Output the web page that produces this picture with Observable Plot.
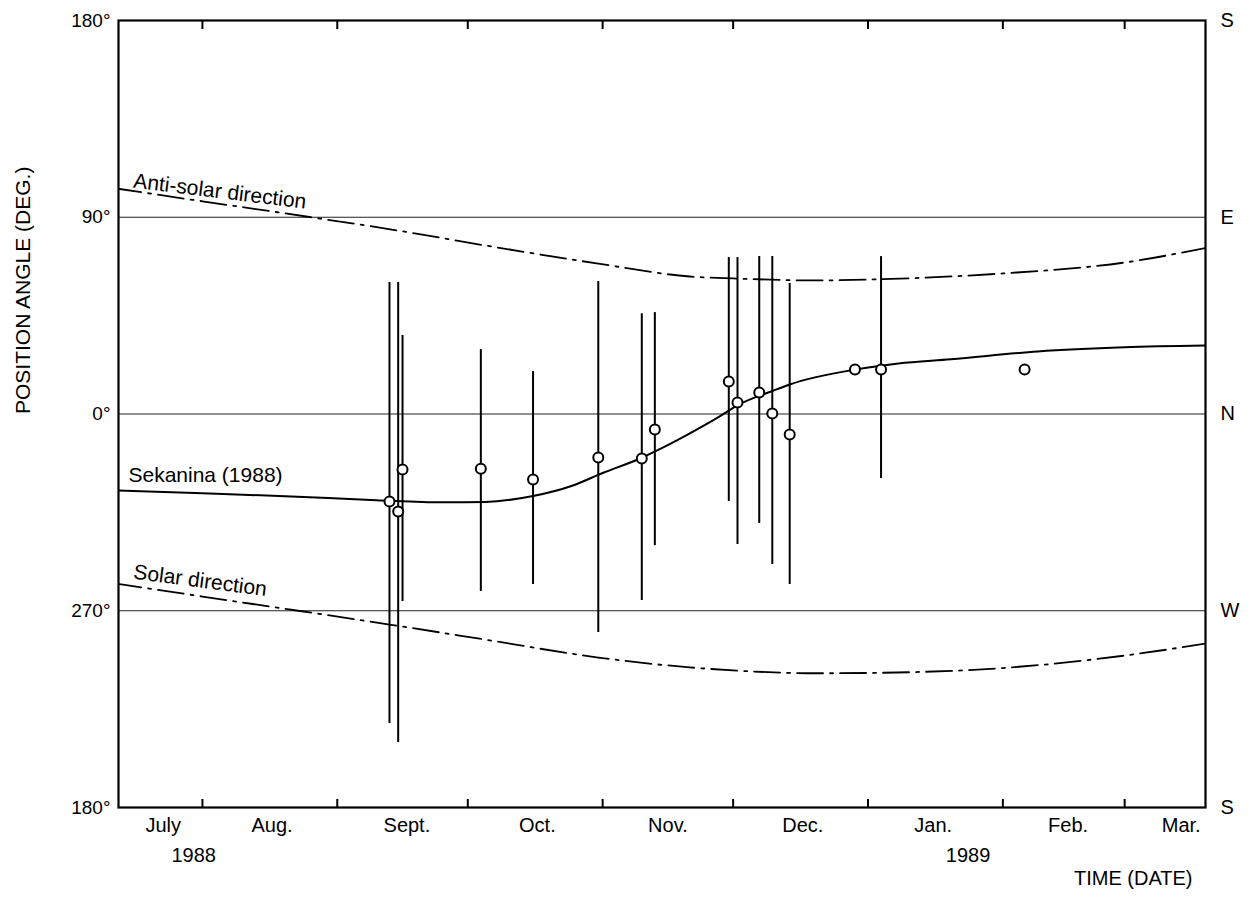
<!DOCTYPE html>
<html>
<head>
<meta charset="utf-8">
<script src="https://cdn.jsdelivr.net/npm/d3@7"></script>
<script src="https://cdn.jsdelivr.net/npm/@observablehq/plot@0.6"></script>
<style>
  html, body { margin: 0; padding: 0; background: #fff; }
  #chart svg { display: block; }
</style>
</head>
<body>
<div id="chart"></div>
<script>
// ---- Observations (position angle in degrees, with error bars) ----
const obsDates = ["1988-09-13","1988-09-15","1988-09-16","1988-10-04","1988-10-16","1988-10-31","1988-11-10","1988-11-13","1988-11-30","1988-12-02","1988-12-07","1988-12-10","1988-12-14","1988-12-29","1989-01-04","1989-02-06"];
const obsAngle = [-40.0,-44.6,-25.4,-25.0,-30.0,-19.9,-20.4,-7.1,14.9,5.3,9.8,0.2,-9.4,20.4,20.4,20.4];
const obsHigh  = [60.2,60.2,35.9,29.5,19.4,60.6,45.9,46.4,71.6,71.6,72.0,72.0,59.7,null,72.0,null];
const obsLow   = [-141.6,-150.3,-85.8,-81.2,-78.0,-100.0,-85.3,-60.2,-40.0,-59.7,-50.1,-68.8,-78.0,null,-29.5,null];

// ---- Sekanina (1988) model curve ----
const sekDates = ["1988-07-12","1988-08-01","1988-08-20","1988-09-10","1988-09-25","1988-10-05","1988-10-16","1988-10-25","1988-11-01","1988-11-10","1988-11-14","1988-11-20","1988-11-28","1988-12-02","1988-12-10","1988-12-14","1988-12-29","1989-01-08","1989-01-20","1989-02-09","1989-03-01","1989-03-20"];
const sekAngle = [-35.0,-36.3,-37.6,-39.4,-40.4,-40.2,-37.5,-32.8,-27.0,-20.0,-16.2,-10.0,-1.0,4.0,10.5,13.5,20.3,23.1,25.0,28.6,30.5,31.3];

// ---- Anti-solar direction ----
const antiDates = ["1988-07-12","1988-08-01","1988-08-26","1988-09-15","1988-10-05","1988-10-31","1988-11-21","1988-12-01","1988-12-20","1989-01-03","1989-02-01","1989-03-01","1989-03-20"];
const antiAngle = [103.2,97.3,90.0,83.9,77.1,68.8,62.9,62.0,61.1,61.6,64.3,69.3,76.1];

// ---- Solar direction ----
const solarDates = ["1988-07-12","1988-08-01","1988-08-23","1988-09-13","1988-10-05","1988-10-31","1988-11-21","1988-12-01","1988-12-20","1989-01-03","1989-02-01","1989-03-01","1989-03-20"];
const solarAngle = [-77.5,-83.5,-90.0,-96.3,-103.2,-111.4,-115.9,-117.3,-118.6,-118.4,-116.2,-110.5,-104.9];

// ---- Axes ----
const monthStarts = ["1988-08-01","1988-09-01","1988-10-01","1988-11-01","1988-12-01","1989-01-01","1989-02-01","1989-03-01"];
const monthLabelDates = ["1988-07-23","1988-08-17","1988-09-17","1988-10-17","1988-11-16","1988-12-17","1989-01-16","1989-02-16","1989-03-14"];
const monthLabels = ["July","Aug.","Sept.","Oct.","Nov.","Dec.","Jan.","Feb.","Mar."];
const yearLabelDates = ["1988-07-30","1989-01-24"];
const yearLabels = ["1988","1989"];
const yTicks = [180, 90, 0, -90, -180];
const yTickLabels = ["180°","90°","0°","270°","180°"];
const compassLabels = ["S","E","N","W","S"];
const gridAngles = [90, 0, -90];

// ---- build tables ----
const P = s => new Date(s + "T00:00:00Z");
const obs = obsDates.map((d, i) => ({date: P(d), angle: obsAngle[i], hi: obsHigh[i], lo: obsLow[i]}));
const obsBars = obs.filter(d => d.hi != null && d.lo != null);
const sek = sekDates.map((d, i) => ({date: P(d), angle: sekAngle[i]}));
const anti = antiDates.map((d, i) => ({date: P(d), angle: antiAngle[i]}));
const solar = solarDates.map((d, i) => ({date: P(d), angle: solarAngle[i]}));
const monthLabelMap = new Map(monthLabelDates.map((d, i) => [+P(d), monthLabels[i]]));
const yLabelMap = new Map(yTicks.map((t, i) => [t, yTickLabels[i]]));
const compassMap = new Map(yTicks.map((t, i) => [t, compassLabels[i]]));
const years = yearLabelDates.map((d, i) => ({date: P(d), text: yearLabels[i]}));

const font = "'Liberation Sans', Arial, Helvetica, sans-serif";
const dashDot = "26,7,3,7";

const chart = Plot.plot({
  width: 1249,
  height: 902,
  marginLeft: 118,
  marginRight: 44,
  marginTop: 20,
  marginBottom: 95,
  style: {fontFamily: font, fontSize: "19px", background: "white", color: "black", overflow: "visible"},
  x: {type: "utc", domain: [new Date("1988-07-12T17:00:00Z"), new Date("1989-03-19T14:00:00Z")]},
  y: {domain: [-180, 180]},
  marks: [
    Plot.ruleY(gridAngles, {stroke: "#222", strokeWidth: 1.1}),
    Plot.line(anti, {x: "date", y: "angle", curve: "monotone-x", stroke: "black", strokeWidth: 1.8, strokeDasharray: dashDot, clip: true}),
    Plot.line(solar, {x: "date", y: "angle", curve: "monotone-x", stroke: "black", strokeWidth: 1.8, strokeDasharray: dashDot, clip: true}),
    Plot.line(sek, {x: "date", y: "angle", curve: "monotone-x", stroke: "black", strokeWidth: 2, clip: true}),
    Plot.ruleX(obsBars, {x: "date", y1: "lo", y2: "hi", stroke: "black", strokeWidth: 2}),
    Plot.dot(obs, {x: "date", y: "angle", r: 5, fill: "white", stroke: "black", strokeWidth: 2}),
    Plot.frame({stroke: "black", strokeWidth: 2.2}),
    // inward ticks at month starts (top and bottom)
    Plot.axisX({anchor: "top", ticks: monthStarts.map(P), tickSize: 8, dy: 8, fill: "none", strokeWidth: 2}),
    Plot.axisX({anchor: "bottom", ticks: monthStarts.map(P), tickSize: 8, dy: -8, fill: "none", strokeWidth: 2}),
    // month names
    Plot.axisX({anchor: "bottom", ticks: monthLabelDates.map(P), tickSize: 0, tickPadding: 10, fontSize: 20,
      tickFormat: d => monthLabelMap.get(+d), label: null}),
    // year labels
    Plot.text(years, {x: "date", text: "text", frameAnchor: "bottom", dy: 54, fontSize: 20}),
    // y axis labels
    Plot.axisY({anchor: "left", ticks: yTicks, tickSize: 0, tickPadding: 8, fontSize: 19,
      tickFormat: d => yLabelMap.get(d), label: null}),
    Plot.axisY({anchor: "right", ticks: yTicks, tickSize: 0, tickPadding: 15, fontSize: 20,
      tickFormat: d => compassMap.get(d), label: null}),
    // axis titles
    Plot.text(["POSITION ANGLE (DEG.)"], {frameAnchor: "left", rotate: -90, dx: -95, fontSize: 21, text: d => d}),
    Plot.text(["TIME (DATE)"], {frameAnchor: "bottom-right", dx: -13, dy: 77, textAnchor: "end", fontSize: 20, text: d => d}),
    // annotations
    Plot.text([{date: P("1988-07-16"), angle: 103.6, t: "Anti-solar direction"}],
      {x: "date", y: "angle", text: "t", rotate: 7, textAnchor: "start", lineAnchor: "bottom", fontSize: 21}),
    Plot.text([{date: P("1988-07-16"), angle: -75.3, t: "Solar direction"}],
      {x: "date", y: "angle", text: "t", rotate: 7.5, textAnchor: "start", lineAnchor: "bottom", fontSize: 21}),
    Plot.text([{date: P("1988-07-15"), angle: -31.3, t: "Sekanina (1988)"}],
      {x: "date", y: "angle", text: "t", textAnchor: "start", lineAnchor: "bottom", fontSize: 21})
  ]
});
document.getElementById("chart").appendChild(chart);
</script>
</body>
</html>
